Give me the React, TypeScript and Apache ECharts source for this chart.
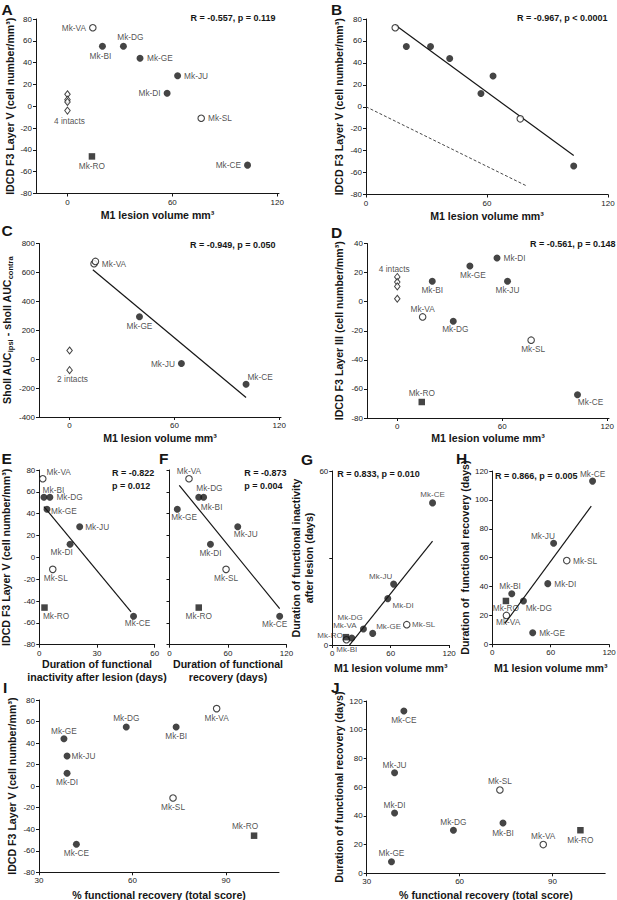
import React, { useEffect, useRef } from 'react';
import * as echarts from 'echarts';

const FONT = '"Liberation Sans", Arial, Helvetica, sans-serif';
const INK = '#161616';

// ---------------- data ----------------
// order: VA, BI, DG, GE, JU, DI, SL, CE, RO
const monkeys = ['Mk-VA', 'Mk-BI', 'Mk-DG', 'Mk-GE', 'Mk-JU', 'Mk-DI', 'Mk-SL', 'Mk-CE', 'Mk-RO'];
const markerKind = ['open', 'filled', 'filled', 'filled', 'filled', 'filled', 'open', 'filled', 'square'];
const lesionVolume = [14.5, 20, 32, 41.5, 63, 57, 76.5, 103, 14];
const layerVDensity = [72, 55, 55, 44, 28, 12, -11, -54, -46];
const layerIIIDensity = [-10.5, 14, -13.5, 24.5, 14, 30, -26.5, -64, -69];
const inactivityDays = [1.8, 2.4, 5.5, 4, 21, 16, 7, 49, 2.7];
const recoveryDays = [20, 35, 30, 8, 70, 42, 58, 113, 30];
const recoveryPercent = [87, 74, 58, 38, 39, 39, 73, 42, 99];

const intactLesion = [0, 0, 0, 0];
const intactLayerV = [11, 6, 4, -4];
const intactLayerIII = [17, 13.5, 10.5, 2];
const intactShollLesion = [0, 0];
const intactSholl = [60, -76];

const shollMonkeys = ['Mk-VA', 'Mk-VA', 'Mk-GE', 'Mk-JU', 'Mk-CE'];
const shollKind = ['open', 'open', 'filled', 'filled', 'filled'];
const shollLesion = [14, 14.8, 40, 64, 101];
const shollDiff = [660, 676, 293, -30, -173];

// regression / reference lines (end points)
const fitB = [[14.5, 74.5], [103, -44.5]];
const refB = [[0, 0], [80, -72.5]];
const fitC = [[13.3, 618], [101, -265]];
const fitE = [[2.4, 46.5], [47.7, -50]];
const fitF = [[10, 66], [113, -47]];
const fitG = [[17.6, 0], [103, 35.8]];
const fitH = [[13, 14.5], [101.7, 95.7]];

// tick values
const ticksLesion = [0, 60, 120];
const ticksLayerV = [-80, -60, -40, -20, 0, 20, 40, 60, 80];
const ticksSholl = [-400, -200, 0, 200, 400, 600, 800];
const ticksLayerIII = [-80, -60, -40, -20, 0, 20, 40];
const ticksInactivityX = [0, 30, 60];
const ticksInactivityY = [0, 30, 60];
const labelsInactivityY = [0, 60];
const ticksRecoveryDays = [0, 20, 40, 60, 80, 100, 120];
const ticksPercent = [30, 60, 90];

const stats = {
  A: 'R = -0.557, p = 0.119',
  B: 'R = -0.967, p < 0.0001',
  C: 'R = -0.949, p = 0.050',
  D: 'R = -0.561, p = 0.148',
  E1: 'R = -0.822', E2: 'p = 0.012',
  F1: 'R = -0.873', F2: 'p = 0.004',
  G: 'R = 0.833, p = 0.010',
  H: 'R = 0.866, p = 0.005',
};

// ---------------- layout ----------------
const grids = [
  { left: 36, top: 19, width: 243, height: 174.5 },
  { left: 366, top: 19, width: 242, height: 175.5 },
  { left: 39, top: 243.5, width: 242, height: 173.5 },
  { left: 367, top: 243.5, width: 242, height: 174.5 },
  { left: 39.3, top: 470, width: 115.4, height: 174.7 },
  { left: 169.5, top: 470, width: 117, height: 174.7 },
  { left: 332.3, top: 471, width: 116.8, height: 174 },
  { left: 492.3, top: 471, width: 116.8, height: 173.3 },
  { left: 39, top: 700, width: 240, height: 172.3 },
  { left: 366.7, top: 701, width: 238.5, height: 172.3 },
];

const LESION = 'M1 lesion volume mm\u00b3';
const LAYERV = 'IDCD F3 Layer V (cell number/mm\u00b3)';

const xSpec = [
  { min: -18, max: 121, ticks: ticksLesion, labels: ticksLesion, name: LESION, gap: 15 },
  { min: 0, max: 120, ticks: ticksLesion, labels: ticksLesion, name: LESION, gap: 15 },
  { min: -17.5, max: 121, ticks: ticksLesion, labels: ticksLesion, name: LESION, gap: 14.5 },
  { min: -17.3, max: 121, ticks: ticksLesion, labels: ticksLesion, name: LESION, gap: 14 },
  { min: 0, max: 60, ticks: ticksInactivityX, labels: ticksInactivityX, name: 'Duration of functional\ninactivity after lesion (days)', gap: 13 },
  { min: 0, max: 120, ticks: ticksLesion, labels: ticksLesion, name: 'Duration of functional\nrecovery (days)', gap: 13 },
  { min: 0, max: 120, ticks: ticksLesion, labels: ticksLesion, name: LESION, gap: 17 },
  { min: 0, max: 120, ticks: ticksLesion, labels: ticksLesion, name: LESION, gap: 17 },
  { min: 30, max: 107, ticks: ticksPercent, labels: ticksPercent, name: '% functional recovery (total score)', gap: 16 },
  { min: 30, max: 107, ticks: ticksPercent, labels: ticksPercent, name: '% functional recovery (total score)', gap: 15 },
];

const ySpec: any[] = [
  { min: -80, max: 80, ticks: ticksLayerV, labels: ticksLayerV, name: LAYERV, gap: 15 },
  { min: -80, max: 80, ticks: ticksLayerV, labels: ticksLayerV, name: LAYERV, gap: 20.5 },
  { min: -400, max: 800, ticks: ticksSholl, labels: ticksSholl, name: '{b|Sholl AUC}{s|ipsi}{b| - sholl AUC}{s|contra}', gap: 25, rich: true },
  { min: -80, max: 40, ticks: ticksLayerIII, labels: ticksLayerIII, name: 'IDCD F3 Layer III (cell number/mm\u00b3)', gap: 21.5 },
  { min: -80, max: 80, ticks: ticksLayerV, labels: ticksLayerV, name: LAYERV, gap: 27 },
  { min: -80, max: 80, ticks: ticksLayerV, labels: null, name: '', gap: 10 },
  { min: 0, max: 60, ticks: ticksInactivityY, labels: labelsInactivityY, name: 'Duration of functional inactivity\nafter lesion (days)', gap: 5.5 },
  { min: 0, max: 120, ticks: ticksRecoveryDays, labels: ticksRecoveryDays, name: 'Duration of  functional recovery (days)', gap: 19 },
  { min: -80, max: 80, ticks: ticksLayerV, labels: ticksLayerV, name: LAYERV, gap: 20.5 },
  { min: 0, max: 120, ticks: ticksRecoveryDays, labels: ticksRecoveryDays, name: 'Duration of functional recovery (days)', gap: 21.5 },
];

// label placements per panel: [position, distance, dx, dy], index order as monkeys
type LP = [string, number, number?, number?];
const labelsA: LP[] = [['left', 3], ['bottom', 2, -2, 0], ['top', 2, 7, 0], ['right', 3.5], ['right', 3], ['left', 3], ['right', 3], ['left', 3], ['bottom', 2]];
const labelsD: LP[] = [['top', 0], ['bottom', 1], ['bottom', 0, 2, 0], ['bottom', 1, 3, 0], ['bottom', 1], ['right', 3], ['bottom', 1, 2, 0], ['bottom', 0, 13, 0], ['top', 2]];
const labelsE: LP[] = [['right', 0, 0, -7], ['top', 0, 9.5, 0], ['right', 3], ['right', 0.5, 0, 1.5], ['right', 2], ['bottom', 0, -8.4, 0], ['bottom', 1, 3, 0], ['bottom', 0, 4, -1], ['bottom', 1, 11.6, 0]];
const labelsF: LP[] = [['top', 0], ['bottom', 0, 8, 2], ['top', 2, 10.7, 0], ['bottom', 0, 6.8, 0], ['bottom', 0, 8, 0], ['bottom', 1], ['bottom', 1], ['bottom', 0, -5, 0], ['bottom', 1]];
const labelsG: LP[] = [['top', 2.5, -1.5, -4], ['bottom', 3.5, -5, 0], ['top', 0, -13.3, -4.5], ['right', 0, 0, -7], ['top', 0, -13, 0], ['right', 1.2, 0, 6.7], ['right', 1.5], ['top', 1], ['left', 0, 0, -2]];
const labelsH: LP[] = [['bottom', 0, 1.7, -1], ['top', 0, -1.7, 0], ['bottom', 0, 15.4, 0], ['right', 3], ['top', 0, -10.7, 0], ['right', 3], ['right', 2.5], ['top', 0], ['bottom', 0]];
const labelsI: LP[] = [['bottom', 2], ['bottom', 2], ['top', 1], ['top', 0], ['right', 1], ['bottom', 1], ['bottom', 1], ['bottom', 1], ['top', 2, -9, 0]];
const labelsJ: LP[] = [['top', 1], ['bottom', 2], ['top', 1], ['top', 1], ['top', 0], ['top', 0], ['top', 1], ['bottom', 1], ['bottom', 3]];
const labelsC: LP[] = [['right', 4], null as any, ['bottom', 2], ['left', 3], ['top', 0, 14, 0]];

function kindStyle(kind: string) {
  if (kind === 'filled') return { symbol: 'circle', symbolSize: 7, itemStyle: { color: INK, borderWidth: 0 } };
  if (kind === 'open') return { symbol: 'circle', symbolSize: 6.5, itemStyle: { color: '#fff', borderColor: INK, borderWidth: 1.1 } };
  if (kind === 'square') return { symbol: 'rect', symbolSize: 6.5, itemStyle: { color: INK, borderWidth: 0 } };
  return { symbol: 'diamond', symbolSize: [5.5, 7], itemStyle: { color: '#fff', borderColor: INK, borderWidth: 1 } };
}

const labelBase = { show: true, formatter: '{b}', fontSize: 8.3, color: '#1e1e1e', fontFamily: FONT };

function pointSeries(g: number, names: string[], kinds: string[], xs: number[], ys: number[], lps: (LP | null)[] | null, skip: number[] = [], fontSize = 8.3) {
  const data: any[] = [];
  xs.forEach((x, i) => {
    if (skip.includes(i)) return;
    const lp = lps ? lps[i] : null;
    data.push({
      name: names[i],
      value: [x, ys[i]],
      ...kindStyle(kinds[i]),
      label: lp ? { show: true, position: lp[0], distance: lp[1], offset: [lp[2] || 0, lp[3] || 0] } : { show: false },
    });
  });
  return {
    type: 'scatter', xAxisIndex: g, yAxisIndex: g, z: 4, silent: true,
    label: { ...labelBase, fontSize }, emphasis: { disabled: true }, data,
  };
}

function intactSeries(g: number, xs: number[], ys: number[], caption: string, labelIndex: number, lp: LP) {
  return {
    type: 'scatter', xAxisIndex: g, yAxisIndex: g, z: 4, silent: true, emphasis: { disabled: true },
    label: labelBase,
    data: xs.map((x, i) => ({
      name: caption, value: [x, ys[i]], ...kindStyle('diamond'),
      label: i === labelIndex ? { show: true, position: lp[0], distance: lp[1], offset: [lp[2] || 0, lp[3] || 0] } : { show: false },
    })),
  };
}

function lineSeries(g: number, pts: number[][], dashed = false) {
  return {
    type: 'line', xAxisIndex: g, yAxisIndex: g, data: pts, symbol: 'none', silent: true, z: 2,
    lineStyle: dashed ? { color: '#333', width: 0.9, type: [3, 2] } : { color: INK, width: 1.2 },
    emphasis: { disabled: true },
  };
}

function buildOption() {
  const titleStyle = { fontWeight: 'bold', fontSize: 10.6, fontFamily: FONT, color: INK, lineHeight: 12.7 };
  const xAxis = xSpec.map((s, g) => ({
    type: 'value', gridIndex: g, min: s.min, max: s.max,
    axisLine: { show: true, onZero: false, lineStyle: { color: INK, width: 1 } },
    axisTick: { show: true, length: 3, customValues: s.ticks, lineStyle: { color: INK, width: 1 } },
    axisLabel: { customValues: s.labels, fontSize: 8, color: '#222', margin: 4.5, fontFamily: FONT },
    splitLine: { show: false },
    name: s.name, nameLocation: 'middle', nameGap: s.gap, nameTextStyle: titleStyle,
  }));
  const yAxis = ySpec.map((s, g) => ({
    type: 'value', gridIndex: g, min: s.min, max: s.max,
    axisLine: { show: true, onZero: false, lineStyle: { color: INK, width: 1 } },
    axisTick: { show: true, length: 3, customValues: s.ticks, lineStyle: { color: INK, width: 1 } },
    axisLabel: s.labels ? { customValues: s.labels, fontSize: 8, color: '#222', margin: 4, fontFamily: FONT } : { show: false },
    splitLine: { show: false },
    name: s.name, nameLocation: 'middle', nameGap: s.gap, nameRotate: 90,
    nameTextStyle: s.rich ? {
      ...titleStyle,
      rich: {
        b: { fontWeight: 'bold', fontSize: 10.6, fontFamily: FONT, color: INK, verticalAlign: 'top', lineHeight: 13 },
        s: { fontWeight: 'bold', fontSize: 7.5, fontFamily: FONT, color: INK, verticalAlign: 'bottom', lineHeight: 8, padding: [7, 0, 0, 0] },
      },
    } : titleStyle,
  }));

  const series: any[] = [
    // A
    intactSeries(0, intactLesion, intactLayerV, '4 intacts', 3, ['bottom', 2, 2, 0]),
    pointSeries(0, monkeys, markerKind, lesionVolume, layerVDensity, labelsA),
    // B
    lineSeries(1, refB, true),
    lineSeries(1, fitB),
    pointSeries(1, monkeys, markerKind, lesionVolume, layerVDensity, null, [8]),
    // C
    lineSeries(2, fitC),
    intactSeries(2, intactShollLesion, intactSholl, '2 intacts', 1, ['bottom', 1, 3, 0]),
    pointSeries(2, shollMonkeys, shollKind, shollLesion, shollDiff, labelsC),
    // D
    intactSeries(3, intactLesion, intactLayerIII, '4 intacts', 0, ['top', 0, -3, 0]),
    pointSeries(3, monkeys, markerKind, lesionVolume, layerIIIDensity, labelsD),
    // E
    lineSeries(4, fitE),
    pointSeries(4, monkeys, markerKind, inactivityDays, layerVDensity, labelsE),
    // F
    lineSeries(5, fitF),
    pointSeries(5, monkeys, markerKind, recoveryDays, layerVDensity, labelsF),
    // G
    lineSeries(6, fitG),
    pointSeries(6, monkeys, markerKind, lesionVolume, inactivityDays, labelsG, [], 8),
    // H
    lineSeries(7, fitH),
    pointSeries(7, monkeys, markerKind, lesionVolume, recoveryDays, labelsH),
    // I
    pointSeries(8, monkeys, markerKind, recoveryPercent, layerVDensity, labelsI),
    // J
    pointSeries(9, monkeys, markerKind, recoveryPercent, recoveryDays, labelsJ),
  ];

  const letter = (t: string, x: number, y: number) => ({
    type: 'text', x, y, silent: true,
    style: { text: t, fill: INK, font: `bold 15.5px ${FONT}`, align: 'left', verticalAlign: 'middle' },
  });
  const stat = (t: string, x: number, y: number, align: string) => ({
    type: 'text', x, y, silent: true,
    style: { text: t, fill: INK, font: `bold 9px ${FONT}`, align, verticalAlign: 'middle' },
  });

  const graphic = [
    letter('A', 1.5, 9.5), letter('B', 331, 9.5), letter('C', 1.5, 230.5), letter('D', 331, 232),
    letter('E', 1.5, 458), letter('F', 159, 458), letter('G', 301, 459.5), letter('H', 456, 458),
    letter('I', 3, 687), letter('J', 331, 687),
    stat(stats.A, 275.5, 18.3, 'right'),
    stat(stats.B, 607.5, 18.3, 'right'),
    stat(stats.C, 275.5, 245, 'right'),
    stat(stats.D, 615.5, 244.3, 'right'),
    stat(stats.E1, 112, 473.3, 'left'), stat(stats.E2, 112, 485.7, 'left'),
    stat(stats.F1, 244.3, 473.3, 'left'), stat(stats.F2, 244.3, 486, 'left'),
    stat(stats.G, 337.3, 474.3, 'left'),
    stat(stats.H, 495, 475.7, 'left'),
  ];

  return {
    animation: false,
    backgroundColor: '#fff',
    textStyle: { fontFamily: FONT },
    grid: grids.map((g) => ({ ...g, containLabel: false, outerBoundsMode: 'none' })),
    xAxis, yAxis, series, graphic,
  };
}

export default function App() {
  const ref = useRef<HTMLDivElement>(null);
  useEffect(() => {
    const chart = echarts.init(ref.current!, null, { renderer: 'svg', width: 617, height: 900 });
    chart.setOption(buildOption() as any);
    return () => chart.dispose();
  }, []);
  return <div ref={ref} style={{ position: 'absolute', left: 0, top: 0, width: 617, height: 900, background: '#fff' }} />;
}
